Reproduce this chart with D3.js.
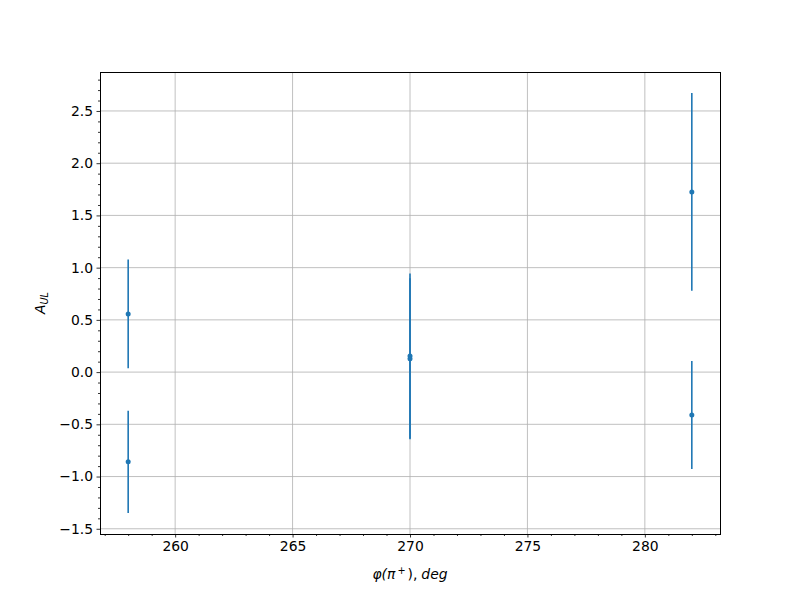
<!DOCTYPE html>
<html><head><meta charset="utf-8">
<script src="https://cdn.jsdelivr.net/npm/d3@7"></script>
<style>body{margin:0;background:#fff}svg{display:block}text{font-family:"DejaVu Sans",sans-serif}</style>
</head><body><svg id="c" width="800" height="600"></svg>
<script>
const xs = [258, 258, 270, 270, 282, 282];
const ys = [0.557, -0.859, 0.155, 0.128, 1.725, -0.41];
const errs = [0.52, 0.49, 0.79, 0.77, 0.947, 0.517];
const xTicks = [260, 265, 270, 275, 280];
const yTicks = [-1.5, -1.0, -0.5, 0.0, 0.5, 1.0, 1.5, 2.0, 2.5];

const svg = d3.select("#c");
const L = 100, R = 720, T = 72, B = 534;
const x = d3.scaleLinear().domain([256.8, 283.2]).range([L, R]);
const lo = d3.min(ys.map((v, i) => v - errs[i])), hi = d3.max(ys.map((v, i) => v + errs[i]));
const pad = (hi - lo) * 0.05;
const y = d3.scaleLinear().domain([lo - pad, hi + pad]).range([B, T]);

const g = svg.append("g");
g.selectAll(".gx").data(xTicks).join("line").attr("x1", d => x(d)).attr("x2", d => x(d)).attr("y1", T).attr("y2", B).attr("stroke", "#b0b0b0").attr("stroke-width", 0.8);
g.selectAll(".gy").data(yTicks).join("line").attr("y1", d => y(d)).attr("y2", d => y(d)).attr("x1", L).attr("x2", R).attr("stroke", "#b0b0b0").attr("stroke-width", 0.8);

const fmtY = d => d3.format(".1f")(d).replace("-", "\u2212");
const xAxis = d3.axisBottom(x).tickValues(xTicks).tickSize(3.5).tickPadding(3.5).tickFormat(d3.format("d"));
const yAxis = d3.axisLeft(y).tickValues(yTicks).tickSize(3.5).tickPadding(3.5).tickFormat(fmtY);
const xMinor = d3.range(257, 284, 1).filter(d => !xTicks.includes(d));
const yMinor = d3.range(-15, 29, 1).map(d => d / 10).filter(d => Math.abs(d * 2 - Math.round(d * 2)) > 1e-6);
svg.append("g").attr("transform", `translate(0,${B})`).call(xAxis);
svg.append("g").attr("transform", `translate(0,${B})`).call(d3.axisBottom(x).tickValues(xMinor).tickSize(2).tickFormat(""));
svg.append("g").attr("transform", `translate(${L},0)`).call(yAxis);
svg.append("g").attr("transform", `translate(${L},0)`).call(d3.axisLeft(y).tickValues(yMinor).tickSize(2).tickFormat(""));
svg.selectAll(".domain").remove();
svg.selectAll(".tick line").attr("stroke", "#000").attr("stroke-width", 0.8);
svg.selectAll(".tick text").attr("font-size", 13.9).attr("fill", "#000").attr("font-family", "DejaVu Sans");

svg.append("rect").attr("x", L).attr("y", T).attr("width", R - L).attr("height", B - T).attr("fill", "none").attr("stroke", "#000").attr("stroke-width", 1).attr("shape-rendering", "crispEdges");

const idx = d3.range(xs.length);
svg.selectAll(".eb").data(idx).join("line").attr("x1", i => x(xs[i])).attr("x2", i => x(xs[i]))
  .attr("y1", i => y(ys[i] - errs[i])).attr("y2", i => y(ys[i] + errs[i])).attr("stroke", "#1f77b4").attr("stroke-width", 1.6);
svg.selectAll(".pt").data(idx).join("circle").attr("cx", i => x(xs[i])).attr("cy", i => y(ys[i])).attr("r", 2.5).attr("fill", "#1f77b4");

const xl = svg.append("text").attr("x", (L + R) / 2).attr("y", 579).attr("text-anchor", "middle").attr("font-size", 13.9).attr("font-style", "italic");
xl.append("tspan").text("\u03c6(\u03c0");
xl.append("tspan").attr("font-size", 9.7).attr("dy", -5).attr("dx", 2).attr("font-style", "normal").text("+");
xl.append("tspan").attr("dy", 5).attr("dx", 2).attr("font-style", "normal").text(")");
xl.append("tspan").attr("font-style", "normal").text(",");
xl.append("tspan").attr("dx", 4).text("deg");
const yl = svg.append("text").attr("transform", `translate(45,${(T + B) / 2}) rotate(-90)`).attr("text-anchor", "middle").attr("font-size", 13.9).attr("font-style", "italic");
yl.append("tspan").text("A");
yl.append("tspan").attr("font-size", 9.7).attr("dy", 3).text("UL");
</script></body></html>
